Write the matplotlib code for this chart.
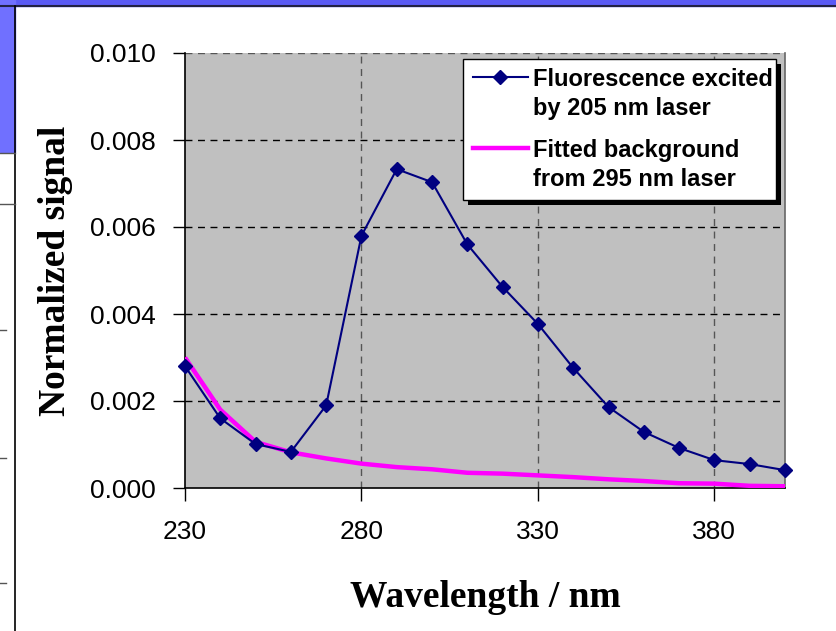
import matplotlib
matplotlib.use("Agg")
import matplotlib.pyplot as plt
from matplotlib.patches import Rectangle
from matplotlib.lines import Line2D
from matplotlib.ticker import FormatStrFormatter

wavelength = [230, 240, 250, 260, 270, 280, 290, 300, 310, 320, 330, 340, 350, 360, 370, 380, 390, 400]
fluorescence = [0.0028, 0.0016, 0.00101, 0.00083, 0.0019, 0.0058, 0.00733, 0.00703, 0.0056, 0.00462,
                0.00377, 0.00276, 0.00186, 0.00129, 0.00092, 0.00064, 0.00055, 0.00041]
background = [0.0030, 0.0018, 0.00106, 0.00082, 0.00068, 0.00056, 0.00048, 0.00043, 0.00035, 0.00033,
              0.00029, 0.00025, 0.0002, 0.00016, 0.00011, 0.0001, 0.00005, 0.00004]
xticks = [230, 280, 330, 380]
yticks = [0.000, 0.002, 0.004, 0.006, 0.008, 0.010]
label_fluo = ["Fluorescence excited", "by 205 nm laser"]
label_bg = ["Fitted background", "from 295 nm laser"]

FLUO_C = "#000080"
BG_C = "#ff00ff"

W, H = 837, 631
fig = plt.figure(figsize=(W / 100, H / 100), dpi=100)
fig.patch.set_facecolor("white")


def px(x, y):
    return x / W, 1 - y / H


# slide frame decorations
fig.patches.append(Rectangle(px(0, 6), 1, 6 / H, transform=fig.transFigure, color="#5a5af5", zorder=0))
fig.patches.append(Rectangle(px(0, 152), 15 / W, 152 / H, transform=fig.transFigure, color="#7070ff", zorder=0))
fig.lines.append(Line2D([0, 1], [1 - 6 / H] * 2, transform=fig.transFigure, color="#222244", lw=1.5))
fig.lines.append(Line2D([15 / W, 15 / W], [0, 1 - 6 / H], transform=fig.transFigure, color="black", lw=1.2))
fig.lines.append(Line2D([0, 15 / W], [1 - 153 / H] * 2, transform=fig.transFigure, color="#555555", lw=1))
fig.lines.append(Line2D([0, 15 / W], [1 - 204 / H] * 2, transform=fig.transFigure, color="#555555", lw=1))
for yy in [330, 458, 583]:
    fig.lines.append(Line2D([0, 6 / W], [1 - yy / H] * 2, transform=fig.transFigure, color="#555555", lw=1))

ax = fig.add_axes([185 / W, 1 - 488 / H, 600 / W, 435 / H])
ax.set_facecolor("#c0c0c0")

ax.plot(wavelength, background, color=BG_C, lw=3.2, zorder=3, solid_capstyle="butt")
ax.plot(wavelength, fluorescence, color=FLUO_C, lw=1.5, marker="D", markersize=7,
        zorder=4, clip_on=False)

ax.set_xlim(230, 400)
ax.set_ylim(0, 0.010)
ax.set_xticks(xticks)
ax.set_yticks(yticks)
ax.yaxis.set_major_formatter(FormatStrFormatter("%.3f"))

for y in yticks[1:]:
    ax.axhline(y, color="black" if y < 0.0099 else "#555555", lw=1, ls=(0, (5, 4)), zorder=1)
for x in xticks[1:]:
    ax.axvline(x, color="#555555", lw=1, ls=(0, (5, 4)), zorder=1)

for s in ["top", "right"]:
    ax.spines[s].set_visible(False)
ax.plot([400, 400], [0, 0.010], color="#666666", lw=1.2, zorder=2, clip_on=False)
for s in ["left", "bottom"]:
    ax.spines[s].set_color("black")
    ax.spines[s].set_linewidth(1.2)

ax.tick_params(axis="both", direction="out", length=9, width=1, labelsize=19)
ax.tick_params(axis="y", pad=12)
ax.tick_params(axis="x", pad=14)
for lab in ax.get_xticklabels() + ax.get_yticklabels():
    lab.set_fontfamily("Liberation Sans")

ax.set_xlabel("Wavelength / nm", fontfamily="Liberation Serif", fontweight="bold", fontsize=27, labelpad=26)
ax.set_ylabel("Normalized signal", fontfamily="Liberation Serif", fontweight="bold", fontsize=27, labelpad=12)

# legend drawn by hand (box with hard black shadow)
bx0, by0, bx1, by1 = 463, 59, 776, 200
fig.patches.append(Rectangle(px(bx0 + 5, by1 + 5), (bx1 - bx0) / W, (by1 - by0) / H,
                             transform=fig.transFigure, facecolor="black", edgecolor="none", zorder=8))
fig.patches.append(Rectangle(px(bx0, by1), (bx1 - bx0) / W, (by1 - by0) / H,
                             transform=fig.transFigure, facecolor="white", edgecolor="black", lw=1, zorder=9))
fnt = dict(family="Liberation Sans", weight="bold", size=17)
for (label, color, ycen, marker, lw) in [(label_fluo, FLUO_C, 77, "D", 1.5), (label_bg, BG_C, 148, None, 3.2)]:
    x0, y0 = px(473, ycen)
    x1, _ = px(528, ycen)
    fig.lines.append(Line2D([x0, x1], [y0, y0], transform=fig.transFigure, color=color, lw=lw, zorder=10))
    if marker:
        xm, _ = px(500, ycen)
        fig.lines.append(Line2D([xm], [y0], transform=fig.transFigure, color=color, marker=marker,
                                markersize=7, lw=0, zorder=11))
    for i, line in enumerate(label):
        tx, ty = px(533, ycen + 29 * i)
        fig.text(tx, ty, line, ha="left", va="center_baseline", fontdict=fnt, zorder=12)

fig.savefig("out.png", dpi=100)
